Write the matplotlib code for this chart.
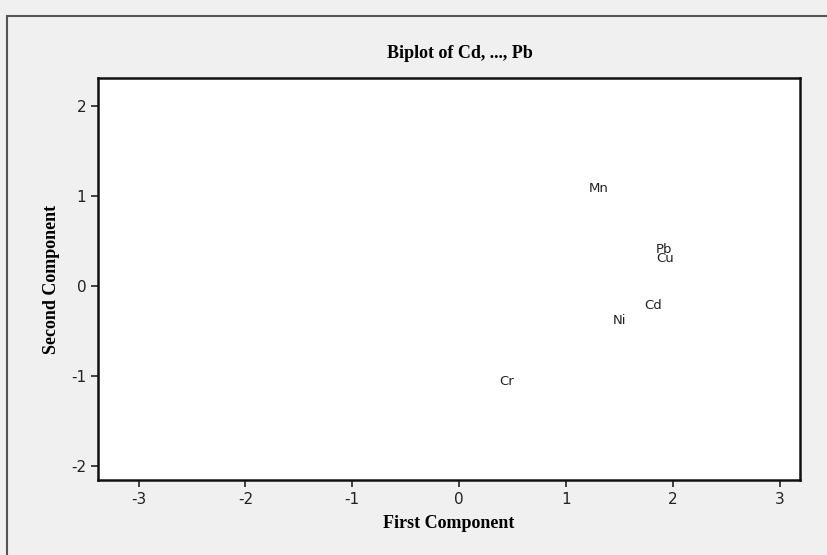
import matplotlib
matplotlib.use("Agg")
import matplotlib.pyplot as plt
from matplotlib.patches import Rectangle

plt.rcParams['axes.unicode_minus'] = False

# loadings
names = ['Mn', 'Pb', 'Cu', 'Cd', 'Ni', 'Cr']
pc1 = [1.31, 1.92, 1.93, 1.82, 1.50, 0.44]
pc2 = [1.08, 0.40, 0.30, -0.22, -0.39, -1.06]

xticks = [-3, -2, -1, 0, 1, 2, 3]
yticks = [-2, -1, 0, 1, 2]

serif = {'family': 'Liberation Serif', 'weight': 'bold', 'size': 13}

fig = plt.figure(figsize=(8.28, 5.55), dpi=100)
fig.patch.set_facecolor('#f0f0f0')
# outer frame (only top/left show in the crop)
fig.patches.append(Rectangle((7 / 828, -0.1), 1.2, 1 - 16 / 555 + 0.1,
                             transform=fig.transFigure, fill=False,
                             edgecolor='#555555', linewidth=1.5))

ax = fig.add_axes([98 / 828, 1 - 480 / 555, 702 / 828, 402 / 555])
ax.set_facecolor('white')
for n, x, y in zip(names, pc1, pc2):
    ax.text(x, y, n, ha='center', va='center', fontsize=9.5,
            family='DejaVu Sans', color='#222222')

ax.set_xlim(-3.38, 3.19)
ax.set_ylim(-2.16, 2.31)
ax.set_xticks(xticks)
ax.set_yticks(yticks)
ax.tick_params(direction='out', length=5, width=1.2, labelsize=11,
               colors='#222222')
for s in ax.spines.values():
    s.set_linewidth(1.8)
    s.set_color('#111111')

ax.set_xlabel('First Component', fontdict=serif, labelpad=6)
ax.set_ylabel('Second Component', fontdict=serif, labelpad=8)
fig.text(460 / 828, 1 - 53 / 555, 'Biplot of Cd, ..., Pb', ha='center',
         va='center', fontdict=serif)

fig.savefig('out.png', dpi=100, facecolor=fig.get_facecolor())
